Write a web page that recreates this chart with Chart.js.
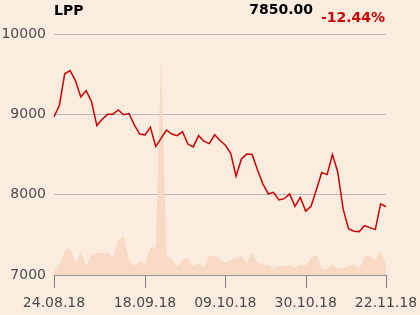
<!DOCTYPE html>
<html>
<head>
<meta charset="utf-8">
<script src="https://cdn.jsdelivr.net/npm/chart.js@4.4.0/dist/chart.umd.min.js"></script>
<style>
  html, body { margin: 0; padding: 0; background: #fbece0; }
  #wrap { position: relative; width: 420px; height: 315px; }
  .hdr { position: absolute; font-family: "DejaVu Sans", sans-serif; font-weight: bold; font-size: 14px; line-height: 16px; white-space: nowrap; }
  #name { left: 54px; top: 2px; color: #000; }
  #price { right: 107px; top: 1px; color: #000; }
  #change { left: 321px; top: 9px; color: #cc0000; }
</style>
</head>
<body>
<div id="wrap">
  <canvas id="chart" width="420" height="315"></canvas>
  <div class="hdr" id="name">LPP</div>
  <div class="hdr" id="price">7850.00</div>
  <div class="hdr" id="change">-12.44%</div>
</div>
<script>
// trading days shown on the chart
const dates = [
  '24.08.18', '27.08.18', '28.08.18', '29.08.18', '30.08.18', '31.08.18',
  '03.09.18', '04.09.18', '05.09.18', '06.09.18', '07.09.18',
  '10.09.18', '11.09.18', '12.09.18', '13.09.18', '14.09.18',
  '17.09.18', '18.09.18', '19.09.18', '20.09.18', '21.09.18',
  '24.09.18', '25.09.18', '26.09.18', '27.09.18', '28.09.18',
  '01.10.18', '02.10.18', '03.10.18', '04.10.18', '05.10.18',
  '08.10.18', '09.10.18', '10.10.18', '11.10.18', '12.10.18',
  '15.10.18', '16.10.18', '17.10.18', '18.10.18', '19.10.18',
  '22.10.18', '23.10.18', '24.10.18', '25.10.18', '26.10.18',
  '29.10.18', '30.10.18', '31.10.18', '02.11.18',
  '05.11.18', '06.11.18', '07.11.18', '08.11.18', '09.11.18',
  '13.11.18', '14.11.18', '15.11.18', '16.11.18',
  '19.11.18', '20.11.18', '21.11.18', '22.11.18'
]

// closing price
const prices = [
  8970, 9110, 9505, 9545, 9420, 9215, 9295, 9160, 8860, 8940,
  9000, 9000, 9055, 8995, 9010, 8870, 8755, 8745, 8840, 8600,
  8700, 8805, 8755, 8735, 8785, 8630, 8595, 8735, 8665, 8635,
  8745, 8675, 8615, 8515, 8230, 8445, 8505, 8500, 8310, 8135,
  8010, 8030, 7935, 7950, 8010, 7855, 7965, 7795, 7855, 8060,
  8275, 8250, 8500, 8280, 7820, 7575, 7545, 7540, 7615, 7590,
  7565, 7885, 7850
]

// volume (thousand shares, approx.)
const volumes = [
  0.4, 1.0, 2.4, 2.7, 1.2, 2.3, 0.9, 2.0, 2.2, 2.2,
  2.3, 1.7, 3.5, 3.9, 1.5, 0.9, 1.3, 1.2, 2.7, 2.8,
  22.0, 1.9, 1.6, 0.8, 1.5, 1.7, 0.8, 1.2, 0.8, 1.9,
  1.9, 1.6, 1.2, 1.5, 1.7, 1.9, 1.2, 2.2, 1.3, 1.0,
  1.0, 0.6, 0.9, 0.9, 1.0, 0.7, 1.0, 0.9, 1.7, 2.0,
  0.6, 0.6, 1.0, 0.7, 0.7, 0.9, 1.1, 0.6, 1.8, 2.0,
  1.5, 2.4, 1.1
]

const yTicks = [7000, 8000, 9000, 10000]
const xTickLabels = ['24.08.18', '18.09.18', '09.10.18', '30.10.18', '22.11.18']

const textColor = '#4a4a4a'
const font = { family: 'DejaVu Sans', size: 14 }

// tick marks below the date axis
const xTickMarks = {
  id: 'xTickMarks',
  afterDraw(chart) {
    const x = chart.scales.x
    const ctx = chart.ctx
    ctx.save()
    ctx.strokeStyle = '#808080'
    ctx.lineWidth = 1
    ctx.beginPath()
    x.ticks.forEach(t => {
      const px = Math.round(x.getPixelForValue(t.value)) + 0.5
      ctx.moveTo(px, x.top)
      ctx.lineTo(px, x.top + 13)
    })
    ctx.stroke()
    ctx.restore()
  }
}

new Chart('chart', {
  type: 'line',
  data: {
    labels: dates,
    datasets: [{
      data: prices,
      yAxisID: 'y',
      borderColor: '#cc0000',
      borderWidth: 1.5,
      pointRadius: 0,
      tension: 0,
      fill: false,
      order: 1
    }, {
      data: volumes,
      yAxisID: 'y1',
      borderWidth: 0,
      backgroundColor: '#f8d9c4',
      pointRadius: 0,
      tension: 0,
      fill: 'origin',
      order: 2
    }]
  },
  options: {
    responsive: false,
    animation: false,
    layout: { padding: { top: 34, right: 34, left: 0, bottom: 0 } },
    plugins: { legend: { display: false }, tooltip: { enabled: false } },
    scales: {
      x: {
        afterBuildTicks: (scale) => {
          scale.ticks = scale.ticks.filter(t => xTickLabels.includes(dates[t.value]))
        },
        afterFit: (scale) => {
          scale.height = 40
          scale.paddingLeft = 0
          scale.paddingRight = 0
        },
        ticks: { autoSkip: false, maxRotation: 0, color: textColor, font: font, padding: 20 },
        grid: { display: false, drawTicks: false },
        border: { display: true, color: '#999', width: 1 }
      },
      y: {
        min: 7000,
        max: 10000,
        afterBuildTicks: (scale) => {
          scale.ticks = yTicks.map(v => ({ value: v }))
        },
        afterFit: (scale) => { scale.width = 54 },
        ticks: { color: textColor, font: font, padding: 8, callback: (v) => String(v) },
        grid: { color: '#b8b8b8', drawTicks: false },
        border: { display: false }
      },
      y1: {
        display: false,
        min: 0,
        max: 24.1
      }
    }
  },
  plugins: [xTickMarks]
})
</script>
</body>
</html>
